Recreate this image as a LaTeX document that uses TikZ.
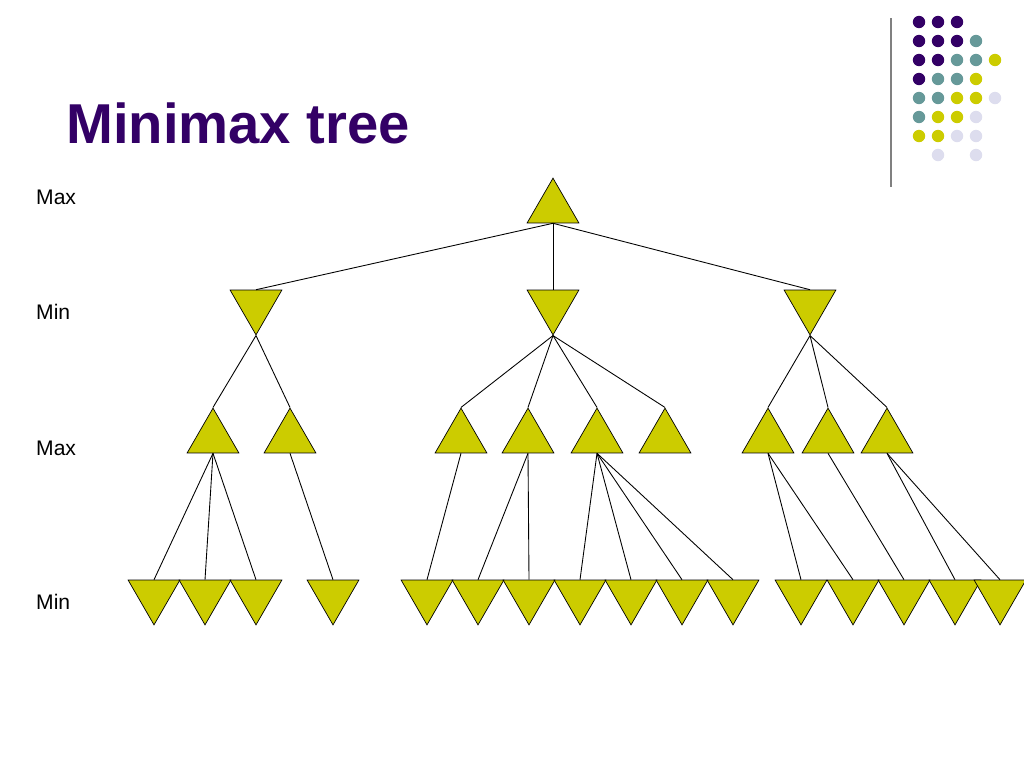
\documentclass[tikz,border=0pt]{standalone}
\usepackage{fontspec}
\setmainfont{Liberation Sans}
\usetikzlibrary{shapes.geometric}
\definecolor{ttlpurple}{HTML}{330066}
\definecolor{dteal}{HTML}{669999}
\definecolor{dyellow}{HTML}{CCCC00}
\definecolor{dlav}{HTML}{DDDDEE}
\tikzset{
  maxnode/.style={regular polygon,regular polygon sides=3,minimum size=34pt,inner sep=0pt,draw=black,fill=dyellow},
  minnode/.style={maxnode,shape border rotate=180},
  link/.style={black,line width=0.5pt},
  lvl/.style={anchor=west,font=\fontsize{12}{14}\selectfont}
}
\begin{document}
\begin{tikzpicture}[x=0.02cm,y=-0.02cm]
\useasboundingbox[fill=white] (0,0) rectangle (1024,768);
% decoration
\draw[gray,line width=0.8pt] (891,18) -- (891,187);
\foreach \r/\cols in {0/{ttlpurple,ttlpurple,ttlpurple},1/{ttlpurple,ttlpurple,ttlpurple,dteal},2/{ttlpurple,ttlpurple,dteal,dteal,dyellow},3/{ttlpurple,dteal,dteal,dyellow},4/{dteal,dteal,dyellow,dyellow,dlav},5/{dteal,dyellow,dyellow,dlav},6/{dyellow,dyellow,dlav,dlav}}{
  \foreach \c [count=\i from 0] in \cols
    \fill[\c] (919+19*\i,22+19*\r) circle (6.2);
}
\fill[dlav] (938,155) circle (6.2);
\fill[dlav] (976,155) circle (6.2);
% title and levels
\node[anchor=base west,text=ttlpurple,font=\fontsize{32}{36}\selectfont\bfseries] (title) at (60,143) {Minimax tree};
\node[lvl] (l0) at (30,197) {Max};
\node[lvl] (l1) at (30,312) {Min};
\node[lvl] (l2) at (30,448) {Max};
\node[lvl] (l3) at (30,602) {Min};
% nodes
\node[maxnode] (r) at (553,208) {};
\foreach \n/\x in {a/256,b/553,c/810}
  \node[minnode] (\n) at (\x,305) {};
\foreach \n/\x in {a1/213,a2/290,b1/461,b2/528,b3/597,b4/665,c1/768,c2/828,c3/887}
  \node[maxnode] (\n) at (\x,438) {};
\foreach \x [count=\i] in {154,205,256,333,427,478,529,580,631,682,733,801,853,904,955,1000}
  \node[minnode] (f\i) at (\x,595) {};
% links
\foreach \n in {a,b,c}
  \draw[link] (r.side 2) -- (\n.side 2);
\foreach \p/\k in {a/a1,a/a2,b/b1,b/b2,b/b3,b/b4,c/c1,c/c2,c/c3}
  \draw[link] (\p.corner 1) -- (\k.corner 1);
\foreach \p/\k in {a1/1,a1/2,a1/3,a2/4,b1/5,b2/6,b2/7,b3/8,b3/9,b3/10,b3/11,c1/12,c1/13,c2/14,c3/15,c3/16}
  \draw[link] (\p.side 2) -- (f\k.side 2);
\end{tikzpicture}
\end{document}
